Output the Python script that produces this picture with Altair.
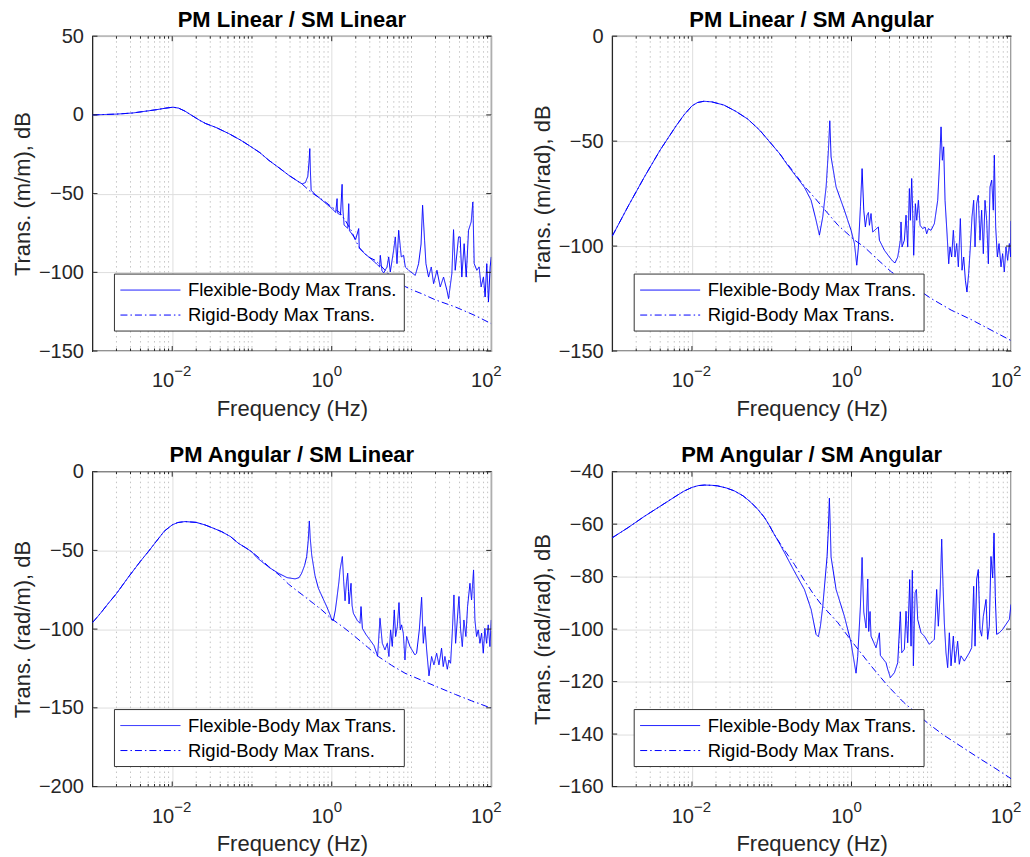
import altair as alt
import pandas as pd

# ---------------- data (log10 frequency, dB) ----------------
p1_rigid_logf = [-3.0,-2.7,-2.5,-2.37,-2.2,-2.08,-1.99,-1.92,-1.84,-1.74,-1.65,-1.58,-1.45,-1.29,-1.15,-1.04,-0.9,-0.79,-0.65,-0.54,-0.45,-0.37,-0.25,-0.1,0.0,0.1,0.17,0.25,0.3,0.35,0.45,0.55,0.62,0.71,0.8,0.92,1.0,1.13,1.3,1.55,1.8,2.0]
p1_rigid_db = [0.0,0.5,1.2,2.1,3.3,4.3,4.9,4.3,2.4,-0.8,-3.6,-5.5,-8.0,-11.9,-15.8,-19.3,-24.0,-28.8,-34.0,-38.3,-41.3,-44.0,-49.5,-54.5,-58.5,-62.0,-67.0,-74.0,-80.0,-84.5,-90.0,-92.5,-96.0,-101.0,-104.5,-109.0,-111.0,-113.6,-117.5,-122.0,-127.5,-132.6]
p1_flex_logf = [-3.0,-2.7,-2.5,-2.37,-2.2,-2.08,-1.99,-1.92,-1.84,-1.74,-1.65,-1.58,-1.45,-1.29,-1.15,-1.04,-0.9,-0.79,-0.65,-0.54,-0.45,
                -0.4,-0.37,-0.33,-0.30,-0.285,-0.275,-0.268,-0.258,-0.2,-0.121,0.004,0.05,0.067,0.075,0.11,0.13,0.14,0.155,0.2,0.213,0.222,0.3,0.338,0.345,0.4,0.463,0.55,0.6,0.609,0.63,0.651,0.693,0.714,0.734,0.776,0.797,0.818,0.839,0.872,0.901,0.922,0.964,1.047,1.089,1.12,1.139,1.164,1.181,1.214,1.248,1.277,1.319,1.36,1.402,1.444,1.465,1.506,1.527,1.548,1.59,1.61,1.631,1.66,1.686,1.715,1.748,1.769,1.786,1.819,1.848,1.873,1.902,1.923,1.944,1.965,1.986,2.0]
p1_flex_db = [0.0,0.5,1.2,2.1,3.3,4.3,4.9,4.3,2.4,-0.8,-3.6,-5.5,-8.0,-11.9,-15.8,-19.3,-24.0,-28.8,-34.0,-38.3,-41.3,
              -43.0,-43.8,-43.0,-39.0,-30.0,-21.4,-35.0,-48.0,-50.8,-54.2,-59.5,-62.0,-53.2,-62.5,-63.5,-44.1,-60.0,-70.0,-72.0,-56.4,-73.5,-79.0,-72.2,-84.8,-87.5,-90.2,-94.0,-96.5,-89.2,-99.0,-100.4,-96.6,-90.2,-99.8,-86.0,-77.5,-94.5,-73.3,-90.2,-89.2,-96.6,-98.7,-101.9,-94.5,-82.0,-57.4,-79.7,-94.5,-103.0,-96.6,-107.2,-98.7,-109.3,-103.0,-111.4,-116.7,-100.8,-72.9,-98.7,-77.5,-77.5,-103.0,-81.8,-103.0,-73.3,-68.0,-55.3,-94.5,-98.7,-96.6,-109.3,-103.0,-115.7,-94.5,-118.9,-96.6,-90.2]

p2_common_logf = [-3.0,-2.8,-2.6,-2.4,-2.2,-2.1,-2.0,-1.93,-1.85,-1.75,-1.6,-1.45,-1.3,-1.15,-1.0,-0.9]
p2_common_db = [-95.3,-81.0,-67.3,-54.3,-42.8,-37.5,-33.2,-31.6,-31.0,-31.3,-32.8,-35.8,-39.5,-44.8,-51.5,-56.0]
p2_rigid_logf = p2_common_logf + [-0.8,-0.7,-0.59,-0.45,-0.34,-0.17,0.04,0.16,0.33,0.5,0.75,1.0,1.25,1.5,1.75,2.0]
p2_rigid_db = p2_common_db + [-61.0,-66.0,-71.5,-77.5,-82.5,-90.0,-97.2,-100.4,-106.5,-112.3,-118.5,-125.0,-130.5,-135.0,-140.0,-145.0]
p2_flex_logf = p2_common_logf + [-0.8,-0.7,-0.59,-0.506,-0.444,-0.402,-0.36,-0.318,-0.289,-0.272,-0.256,-0.193,-0.089,-0.005,0.037,0.066,0.087,0.112,0.133,0.154,0.174,0.195,0.212,0.225,0.245,0.266,0.337,0.35,0.413,0.475,0.517,0.546,0.58,0.613,0.621,0.634,0.663,0.684,0.705,0.726,0.738,0.755,0.768,0.78,0.801,0.818,0.839,0.86,0.893,0.922,0.943,0.964,0.997,1.039,1.081,1.102,1.123,1.139,1.156,1.173,1.198,1.219,1.235,1.256,1.277,1.298,1.319,1.34,1.365,1.386,1.407,1.428,1.448,1.469,1.49,1.511,1.532,1.549,1.57,1.59,1.611,1.632,1.653,1.674,1.695,1.716,1.737,1.758,1.778,1.791,1.808,1.829,1.85,1.875,1.895,1.916,1.937,1.958,1.979,1.996,2.0]
p2_flex_db = p2_common_db + [-61.5,-66.5,-72.0,-78.2,-87.7,-94.8,-86.1,-71.8,-54.3,-40.3,-57.5,-71.8,-82.9,-92.5,-98.8,-109.1,-100.4,-81.3,-63.1,-82.9,-90.9,-85.3,-84.0,-90.1,-84.5,-93.3,-90.9,-97.2,-102.0,-105.2,-107.2,-108.0,-105.2,-97.2,-88.5,-100.4,-97.2,-85.3,-100.4,-72.6,-87.7,-67.8,-84.5,-104.4,-79.8,-87.7,-78.2,-90.1,-91.7,-90.9,-94.1,-91.7,-92.5,-89.3,-78.2,-62.3,-43.2,-59.1,-52.7,-78.2,-94.1,-108.4,-100.4,-105.2,-92.5,-105.2,-98.8,-109.9,-86.9,-111.5,-105.2,-116.3,-121.9,-113.1,-100.4,-86.1,-78.2,-100.4,-79.8,-75.8,-97.2,-82.9,-103.6,-78.2,-87.7,-108.4,-71.8,-68.6,-82.9,-56.7,-90.9,-105.2,-98.8,-109.9,-103.6,-112.3,-100.4,-106.8,-98.8,-105.2,-88.0]

p3_common_logf = [-3.0,-2.9,-2.8,-2.7,-2.55,-2.4,-2.3,-2.2,-2.1,-2.0,-1.93,-1.84,-1.7,-1.59,-1.48,-1.38,-1.27,-1.17,-1.08,-1.0]
p3_common_db = [-95.9,-90.0,-83.6,-77.5,-67.0,-57.0,-50.8,-44.3,-37.8,-33.8,-32.3,-31.7,-32.2,-33.8,-36.0,-38.1,-41.2,-45.5,-48.3,-51.0]
p3_rigid_logf = p3_common_logf + [-0.9,-0.79,-0.65,-0.54,-0.44,-0.335,-0.23,-0.126,0.0,0.15,0.29,0.45,0.584,0.75,0.918,1.127,1.336,1.55,1.75,2.0]
p3_rigid_db = p3_common_db + [-55.2,-60.3,-66.0,-71.5,-75.5,-79.5,-83.7,-87.8,-93.5,-99.0,-104.7,-111.5,-117.4,-123.0,-128.0,-132.5,-137.0,-141.5,-145.5,-150.2]
p3_flex_logf = p3_common_logf + [-0.94,-0.878,-0.78,-0.669,-0.56,-0.46,-0.41,-0.377,-0.34,-0.314,-0.295,-0.281,-0.27,-0.251,-0.21,-0.168,-0.11,-0.063,-0.02,0.0,0.02,0.045,0.062,0.09,0.104,0.133,0.15,0.167,0.185,0.2,0.21,0.217,0.242,0.255,0.271,0.32,0.354,0.367,0.384,0.43,0.48,0.53,0.563,0.575,0.605,0.634,0.667,0.697,0.717,0.738,0.759,0.784,0.801,0.822,0.843,0.859,0.876,0.897,0.918,0.939,0.981,1.043,1.064,1.098,1.127,1.148,1.169,1.19,1.219,1.252,1.281,1.315,1.344,1.377,1.398,1.419,1.449,1.469,1.49,1.511,1.532,1.553,1.574,1.595,1.616,1.637,1.657,1.682,1.703,1.733,1.753,1.778,1.795,1.816,1.837,1.858,1.879,1.9,1.92,1.941,1.962,1.983,2.0]
p3_flex_db = p3_common_db + [-54.5,-57.1,-61.0,-64.5,-67.3,-68.1,-67.3,-64.5,-59.5,-53.9,-44.0,-31.3,-42.0,-53.0,-66.0,-74.0,-80.5,-85.7,-91.0,-94.2,-94.5,-88.0,-81.5,-70.0,-62.4,-53.9,-70.0,-82.0,-70.0,-64.5,-76.0,-84.0,-70.9,-85.0,-89.9,-94.5,-96.3,-85.7,-99.5,-103.5,-106.9,-110.5,-115.3,-117.2,-93.1,-109.0,-113.2,-109.0,-117.4,-100.5,-111.0,-87.8,-104.7,-98.4,-83.2,-100.5,-97.3,-102.6,-119.6,-104.7,-111.1,-116.4,-115.3,-100.5,-79.8,-109.0,-98.4,-113.2,-129.7,-117.4,-122.7,-115.3,-122.7,-112.1,-123.8,-117.4,-125.5,-119.6,-121.7,-102.6,-78.3,-109.0,-94.2,-79.3,-100.5,-111.1,-94.2,-104.7,-85.7,-70.9,-81.5,-62.4,-94.2,-104.7,-100.5,-109.0,-102.6,-115.3,-99.5,-109.0,-97.3,-111.1,-94.2]

p4_common_logf = [-3.0,-2.8,-2.6,-2.4,-2.2,-2.1,-2.0,-1.92,-1.84,-1.75,-1.68,-1.57,-1.47,-1.36,-1.26,-1.17,-1.09,-1.03,-0.97]
p4_common_db = [-65.2,-61.3,-57.1,-53.2,-49.3,-47.4,-46.0,-45.3,-45.1,-45.2,-45.4,-46.2,-47.3,-49.2,-51.7,-54.5,-57.5,-60.5,-63.8]
p4_rigid_logf = p4_common_logf + [-0.85,-0.716,-0.59,-0.48,-0.38,-0.17,0.0,0.245,0.454,0.65,0.955,1.15,1.373,1.6,1.8,2.0]
p4_rigid_db = p4_common_db + [-69.5,-75.3,-81.5,-86.5,-90.6,-97.6,-104.5,-114.0,-121.6,-127.8,-135.8,-140.3,-144.7,-149.2,-153.0,-157.0]
p4_flex_logf = p4_common_logf + [-0.9,-0.841,-0.716,-0.59,-0.506,-0.444,-0.415,-0.39,-0.36,-0.306,-0.29,-0.277,-0.265,-0.256,-0.193,-0.089,-0.005,0.028,0.057,0.078,0.112,0.133,0.154,0.183,0.204,0.216,0.233,0.245,0.308,0.35,0.362,0.433,0.454,0.488,0.538,0.58,0.613,0.63,0.663,0.684,0.705,0.73,0.747,0.763,0.776,0.797,0.814,0.83,0.872,0.914,0.976,1.039,1.068,1.089,1.11,1.131,1.148,1.164,1.185,1.206,1.227,1.248,1.277,1.298,1.331,1.352,1.373,1.415,1.478,1.507,1.532,1.549,1.57,1.59,1.611,1.632,1.653,1.687,1.707,1.728,1.749,1.77,1.787,1.803,1.82,1.854,1.895,1.937,1.979,2.0]
p4_flex_db = p4_common_db + [-67.5,-70.8,-78.0,-84.9,-92.5,-102.0,-102.9,-99.0,-91.3,-72.3,-62.0,-50.1,-62.0,-72.5,-84.9,-95.1,-105.2,-111.5,-116.8,-110.5,-91.3,-72.7,-93.5,-99.6,-80.9,-100.9,-93.3,-102.7,-107.1,-101.4,-110.0,-112.8,-115.3,-118.5,-116.6,-112.8,-93.4,-109.0,-107.7,-93.2,-105.2,-81.1,-106.5,-77.6,-114.0,-86.2,-84.9,-96.3,-101.4,-102.7,-105.8,-103.9,-84.9,-98.9,-87.5,-65.7,-83.7,-97.6,-109.0,-114.7,-101.4,-114.0,-102.7,-112.8,-104.6,-113.4,-110.2,-112.2,-109.0,-107.1,-83.7,-106.5,-80.9,-77.3,-100.1,-102.7,-95.1,-88.7,-103.9,-98.9,-72.3,-80.5,-63.4,-87.5,-102.0,-101.4,-100.1,-98.2,-96.3,-90.6]

titles = ["PM Linear / SM Linear", "PM Linear / SM Angular", "PM Angular / SM Linear", "PM Angular / SM Angular"]
ytitles = ["Trans. (m/m), dB", "Trans. (m/rad), dB", "Trans. (rad/m), dB", "Trans. (rad/rad), dB"]
ydomains = [[-150, 50], [-150, 0], [-200, 0], [-160, -40]]
yticks = [[-150, -100, -50, 0, 50], [-150, -100, -50, 0], [-200, -150, -100, -50, 0], [-160, -140, -120, -100, -80, -60, -40]]
xtick_hz = [0.01, 1, 100]
xtick_exp = ["\u22122", "0", "2"]
FLEX = "Flexible-Body Max Trans."
RIGID = "Rigid-Body Max Trans."

# ---------------- styling ----------------
FONT = "Liberation Sans"
TXT = "#262626"
BLUE = "#0000ff"
W, H = 399, 315

minor_hz = [k * 10.0 ** e for e in range(-3, 2) for k in range(1, 10)
            if not (k == 1 and e in (-3, -2, 0))]


def panel(i, rl, rd, fl, fd):
    assert len(rl) == len(rd), (i, "rigid", len(rl), len(rd))
    assert len(fl) == len(fd), (i, "flex", len(fl), len(fd))
    df = pd.DataFrame({
        "f": [10.0 ** v for v in fl] + [10.0 ** v for v in rl],
        "db": list(fd) + list(rd),
        "series": [FLEX] * len(fl) + [RIGID] * len(rl),
        "order": list(range(len(fl))) + list(range(len(rl))),
    })
    xs = alt.Scale(type="log", domain=[1e-3, 1e2], nice=False)
    ys = alt.Scale(domain=ydomains[i], nice=False, zero=False)
    xaxis = alt.Axis(values=xtick_hz, labels=False, ticks=False, domain=False,
                     grid=True, gridColor="#dedede", gridWidth=1,
                     title="Frequency (Hz)", titlePadding=47, minExtent=0, maxExtent=0)
    yaxis = alt.Axis(values=yticks[i], ticks=False, domain=False, grid=True,
                     gridColor="#dedede", gridWidth=1, format="d", labelPadding=9,
                     title=ytitles[i], titlePadding=8, minExtent=50, maxExtent=50)
    X = alt.X("f:Q", scale=xs, axis=xaxis)
    Y = alt.Y("db:Q", scale=ys, axis=yaxis)

    minor_df = pd.DataFrame({"f": minor_hz})
    major_df = pd.DataFrame({"f": xtick_hz[:2]})
    ytick_df = pd.DataFrame({"db": yticks[i]})
    lab_df = pd.DataFrame({"f": xtick_hz, "e": xtick_exp})
    title_df = pd.DataFrame({"t": [titles[i]]})

    grid_minor = alt.Chart(minor_df).mark_rule(color="#c4c4c4", strokeDash=[1.5, 3.5], strokeWidth=1).encode(
        x=X, y=alt.value(0), y2=alt.value(H))

    lines = alt.Chart(df).mark_line(strokeWidth=1, color=BLUE, clip=True).encode(
        x=X, y=Y, order="order:Q",
        strokeDash=alt.StrokeDash(
            "series:N",
            scale=alt.Scale(domain=[FLEX, RIGID], range=[[1, 0], [7, 3, 1.5, 3]]),
            legend=alt.Legend(title=None, orient="none", legendX=21.5, legendY=237.5,
                              fillColor="white", strokeColor="#333333", padding=6,
                              rowPadding=5, labelFontSize=18.5, labelFont=FONT,
                              labelColor="black", symbolType="M-1,0H5", symbolSize=400,
                              symbolStrokeWidth=1, symbolStrokeColor=BLUE, labelOffset=47,
                              labelLimit=400, cornerRadius=0)),
    )

    tk = dict(color=TXT, strokeWidth=1)
    t_minor_b = alt.Chart(minor_df).mark_rule(**tk).encode(x=X, y=alt.value(H), y2=alt.value(H - 2.5))
    t_minor_t = alt.Chart(minor_df).mark_rule(**tk).encode(x=X, y=alt.value(0), y2=alt.value(2.5))
    t_major_b = alt.Chart(major_df).mark_rule(**tk).encode(x=X, y=alt.value(H), y2=alt.value(H - 5))
    t_major_t = alt.Chart(major_df).mark_rule(**tk).encode(x=X, y=alt.value(0), y2=alt.value(5))
    t_y_l = alt.Chart(ytick_df).mark_rule(**tk).encode(y=Y, x=alt.value(0), x2=alt.value(5))
    t_y_r = alt.Chart(ytick_df).mark_rule(**tk).encode(y=Y, x=alt.value(W - 5), x2=alt.value(W))

    base10 = alt.Chart(lab_df).mark_text(text="10", align="right", baseline="alphabetic", dx=2,
                                         fontSize=20, font=FONT, color=TXT).encode(
        x=X, y=alt.value(H + 36))
    expo = alt.Chart(lab_df).mark_text(align="left", baseline="alphabetic", dx=2,
                                       fontSize=15, font=FONT, color=TXT).encode(
        x=X, y=alt.value(H + 25), text="e:N")
    ttl = alt.Chart(title_df).mark_text(align="center", baseline="alphabetic", fontSize=22,
                                        fontWeight="bold", font=FONT, color="black").encode(
        x=alt.value(W / 2), y=alt.value(-9.3), text="t:N")

    return alt.layer(grid_minor, lines, t_minor_b, t_minor_t, t_major_b, t_major_t,
                     t_y_l, t_y_r, base10, expo, ttl).properties(width=W, height=H)


p1 = panel(0, p1_rigid_logf, p1_rigid_db, p1_flex_logf, p1_flex_db)
p2 = panel(1, p2_rigid_logf, p2_rigid_db, p2_flex_logf, p2_flex_db)
p3 = panel(2, p3_rigid_logf, p3_rigid_db, p3_flex_logf, p3_flex_db)
p4 = panel(3, p4_rigid_logf, p4_rigid_db, p4_flex_logf, p4_flex_db)

chart = alt.concat(p1, p2, p3, p4, columns=2, spacing={"row": 120.7, "column": 121},
                   bounds="flush").resolve_scale(
    x="independent", y="independent", strokeDash="independent"
).resolve_legend(strokeDash="independent").resolve_axis(x="independent", y="independent").properties(
    padding={"left": 2.5, "top": 0, "right": 0, "bottom": 0}, background="white"
).configure_view(stroke=TXT, strokeWidth=1.3).configure_axis(
    labelFont=FONT, labelFontSize=20, labelColor=TXT,
    titleFont=FONT, titleFontSize=22, titleColor=TXT, titleFontWeight="normal",
)

chart.save("out.html", embed_options={"renderer": "svg", "actions": False})
